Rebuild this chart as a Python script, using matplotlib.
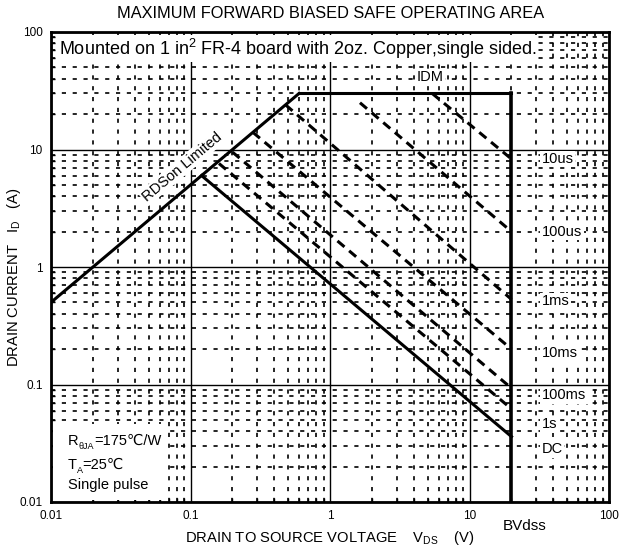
import numpy as np
import matplotlib
matplotlib.use("Agg")
import matplotlib.pyplot as plt
from matplotlib.patches import Rectangle
from matplotlib.ticker import LogLocator, NullFormatter, FixedLocator

plt.rcParams['font.family'] = ['Liberation Sans', 'DejaVu Sans']
plt.rcParams['mathtext.fontset'] = 'custom'
plt.rcParams['mathtext.rm'] = 'Liberation Sans'
plt.rcParams['mathtext.default'] = 'regular'

# data (V in volts, I in amps)
rds_v = [0.01, 0.6]
rds_i = [0.5, 30.0]
idm_v = [0.6, 20.0]
idm_i = [30.0, 30.0]
bvdss = 20.0

dc_v = [0.12, 20.0]
dc_i = [6.0, 0.036]

pulse_names = ["10us", "100us", "1ms", "10ms", "100ms", "1s"]
pulse_v0 = [5.4, 1.64, 0.48, 0.28, 0.2, 0.16]
pulse_i0 = [30.0, 25.0, 24.0, 14.0, 9.5, 7.6]
pulse_i1 = [8.3, 2.0, 0.53, 0.2, 0.093, 0.062]

label_names = ["10us", "100us", "1ms", "10ms", "100ms", "1s", "DC"]
label_i = [8.3, 2.0, 0.51, 0.185, 0.081, 0.046, 0.028]

xticks = [0.01, 0.1, 1, 10, 100]
xtick_labels = ["0.01", "0.1", "1", "10", "100"]
yticks = [0.01, 0.1, 1, 10, 100]
ytick_labels = ["0.01", "0.1", "1", "10", "100"]

fig = plt.figure(figsize=(6.2, 5.53), dpi=100)
ax = fig.add_axes([51/620, 1-502/553, 558/620, 470/553])
ax.set_xscale('log')
ax.set_yscale('log')
ax.set_xlim(0.01, 100)
ax.set_ylim(0.01, 100)

# grid: solid decades, dashed minor
ax.xaxis.set_minor_locator(LogLocator(base=10, subs=np.arange(2, 10)))
ax.yaxis.set_minor_locator(LogLocator(base=10, subs=np.arange(2, 10)))
ax.xaxis.set_minor_formatter(NullFormatter())
ax.yaxis.set_minor_formatter(NullFormatter())
ax.grid(True, which='major', color='black', lw=1.0, ls='-')
ax.grid(True, which='minor', color='black', lw=1.2, ls=(0, (2.5, 4)))
ax.set_axisbelow(True)

ax.xaxis.set_major_locator(FixedLocator(xticks))
ax.yaxis.set_major_locator(FixedLocator(yticks))
ax.set_xticklabels(xtick_labels, fontsize=8.5)
ax.set_yticklabels(ytick_labels, fontsize=8.5)
ax.tick_params(which='both', direction='in', length=3, width=1)
ax.tick_params(which='major', length=0, pad=6)
for s in ax.spines.values():
    s.set_linewidth(2)

# boundaries
ax.plot(rds_v, rds_i, color='black', lw=2.2)
ax.plot(idm_v, idm_i, color='black', lw=2.2)
ax.plot([bvdss, bvdss], [0.01, 30.0], color='black', lw=2.6)
ax.plot(dc_v, dc_i, color='black', lw=2.2)

for v0, i0, i1 in zip(pulse_v0, pulse_i0, pulse_i1):
    ax.plot([v0, bvdss], [i0, i1], color='black', lw=2.2, ls=(0, (3, 2)))

box = dict(facecolor='white', edgecolor='none', pad=1)
for name, yi in zip(label_names, label_i):
    ax.text(33, yi, name, fontsize=10.5, ha='left', va='center', bbox=box)

ax.text(5.2, 41, "IDM", fontsize=10.5, ha='center', va='center', bbox=box)
ax.text(0.087, 7.1, "RDSon Limited", fontsize=10.5, rotation=40,
        ha='center', va='center', rotation_mode='anchor', bbox=box)

ax.text(0.014, 0.964, "Mounted on 1 in$^{2}$ FR-4 board with 2oz. Copper,single sided.",
        transform=ax.transAxes, fontsize=13, ha='left', va='center',
        bbox=dict(facecolor='white', edgecolor='none', pad=1))

# conditions box, bottom left
ax.add_patch(Rectangle((0.004, 0.004), 0.2, 0.162, transform=ax.transAxes,
                       facecolor='white', edgecolor='none', zorder=1))
r = ax.text(0.03, 0.130, "R", transform=ax.transAxes, fontsize=10.5, ha='left', va='center')
rs = ax.annotate("\u03b8JA", xy=(1, 0.12), xycoords=r, fontsize=6.5, ha='left', va='center')
ax.annotate("=175\u2103/W", xy=(1, 0.5), xycoords=(rs, r), fontsize=10.5, ha='left', va='center')
t = ax.text(0.03, 0.079, "T", transform=ax.transAxes, fontsize=10.5, ha='left', va='center')
ts = ax.annotate("A", xy=(1, 0.12), xycoords=t, fontsize=6.5, ha='left', va='center')
ax.annotate("=25\u2103", xy=(1, 0.5), xycoords=(ts, t), fontsize=10.5, ha='left', va='center')
ax.text(0.03, 0.036, "Single pulse", transform=ax.transAxes, fontsize=10.5, ha='left', va='center')

ax.text(24.8, 0.0062, "BVdss", fontsize=11, ha='center', va='center')

fig.text(331/620, 1-14/553, "MAXIMUM FORWARD BIASED SAFE OPERATING AREA",
         fontsize=11.8, ha='center', va='center')
ax.set_xlabel("DRAIN TO SOURCE VOLTAGE    V$_{DS}$    (V)", fontsize=10.6, labelpad=5)
ax.set_ylabel("DRAIN CURRENT   I$_{D}$   (A)", fontsize=10.6)
ax.yaxis.set_label_coords(-0.05, 0.479)

fig.savefig("out.png", dpi=100)
